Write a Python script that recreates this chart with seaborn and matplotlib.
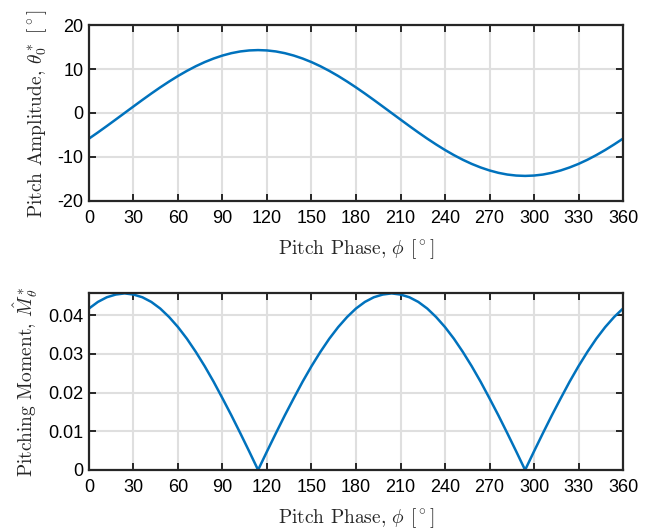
import numpy as np
import pandas as pd
import matplotlib
matplotlib.use("Agg")
import matplotlib.pyplot as plt
import seaborn as sns

phase = list(range(0, 361, 6))
pitch_amplitude = [
    -5.82, -4.42, -2.97, -1.49, 0.00, 1.49, 2.97, 4.42, 5.82, 7.15,
    8.41, 9.57, 10.63, 11.57, 12.38, 13.06, 13.60, 13.99, 14.22, 14.30,
    14.22, 13.99, 13.60, 13.06, 12.38, 11.57, 10.63, 9.57, 8.41, 7.15,
    5.82, 4.42, 2.97, 1.49, 0.00, -1.49, -2.97, -4.42, -5.82, -7.15,
    -8.41, -9.57, -10.63, -11.57, -12.38, -13.06, -13.60, -13.99, -14.22, -14.30,
    -14.22, -13.99, -13.60, -13.06, -12.38, -11.57, -10.63, -9.57, -8.41, -7.15,
    -5.82,
]
pitching_moment = [
    0.0417, 0.0434, 0.0446, 0.0453, 0.0456, 0.0453, 0.0446, 0.0434, 0.0417, 0.0395,
    0.0369, 0.0339, 0.0305, 0.0268, 0.0228, 0.0185, 0.0141, 0.0095, 0.0048, 0.0000,
    0.0048, 0.0095, 0.0141, 0.0185, 0.0228, 0.0268, 0.0305, 0.0339, 0.0369, 0.0395,
    0.0417, 0.0434, 0.0446, 0.0453, 0.0456, 0.0453, 0.0446, 0.0434, 0.0417, 0.0395,
    0.0369, 0.0339, 0.0305, 0.0268, 0.0228, 0.0185, 0.0141, 0.0095, 0.0048, 0.0000,
    0.0048, 0.0095, 0.0141, 0.0185, 0.0228, 0.0268, 0.0305, 0.0339, 0.0369, 0.0395,
    0.0417,
]
x_ticks = list(range(0, 361, 30))
top_y_ticks = [-20, -10, 0, 10, 20]
bottom_y_ticks = [0, 0.01, 0.02, 0.03, 0.04]

df = pd.DataFrame({"phase": phase, "amp": pitch_amplitude, "moment": pitching_moment})

sns.set_theme(style="white")
plt.rcParams["font.family"] = ["Liberation Sans", "DejaVu Sans"]
plt.rcParams["mathtext.fontset"] = "cm"

line_color = "#0072BD"
spine_color = "#262626"
grid_color = "#dfdfdf"

fig = plt.figure(figsize=(6.51, 5.31), dpi=100)
ax1 = fig.add_axes([0.1367, 0.6215, 0.8203, 0.3314])
ax2 = fig.add_axes([0.1367, 0.1149, 0.8203, 0.3333])

sns.lineplot(data=df, x="phase", y="amp", ax=ax1, color=line_color, linewidth=1.8)
sns.lineplot(data=df, x="phase", y="moment", ax=ax2, color=line_color, linewidth=1.8)

label_font = dict(family="cmr10", size=14)

ax1.set_ylim(-20, 20)
ax1.set_yticks(top_y_ticks)
ax1.set_yticklabels([str(t) for t in top_y_ticks])
ax1.set_ylabel(r"Pitch Amplitude, $\theta_0^*$ [$^\circ$]", labelpad=6, **label_font)

ax2.set_ylim(0, 0.0457)
ax2.set_yticks(bottom_y_ticks)
ax2.set_yticklabels(["0", "0.01", "0.02", "0.03", "0.04"])
ax2.set_ylabel(r"Pitching Moment, $\hat{M}_\theta^*$", labelpad=6, **label_font)

for ax in (ax1, ax2):
    ax.set_xlim(0, 360)
    ax.set_xticks(x_ticks)
    ax.set_xticklabels([str(t) for t in x_ticks])
    ax.set_xlabel(r"Pitch Phase, $\phi$ [$^\circ$]", labelpad=7.5, **label_font)
    ax.grid(True, color=grid_color, linewidth=1.5)
    ax.set_axisbelow(True)
    for s in ax.spines.values():
        s.set_visible(True)
        s.set_color(spine_color)
        s.set_linewidth(1.6)
    ax.tick_params(direction="in", length=5, width=1.4, colors=spine_color,
                   labelcolor="#000000", labelsize=13, top=True, right=True,
                   bottom=True, left=True, pad=4)
    ax.tick_params(axis="x", pad=6.5)

fig.savefig("out.png", dpi=100)
